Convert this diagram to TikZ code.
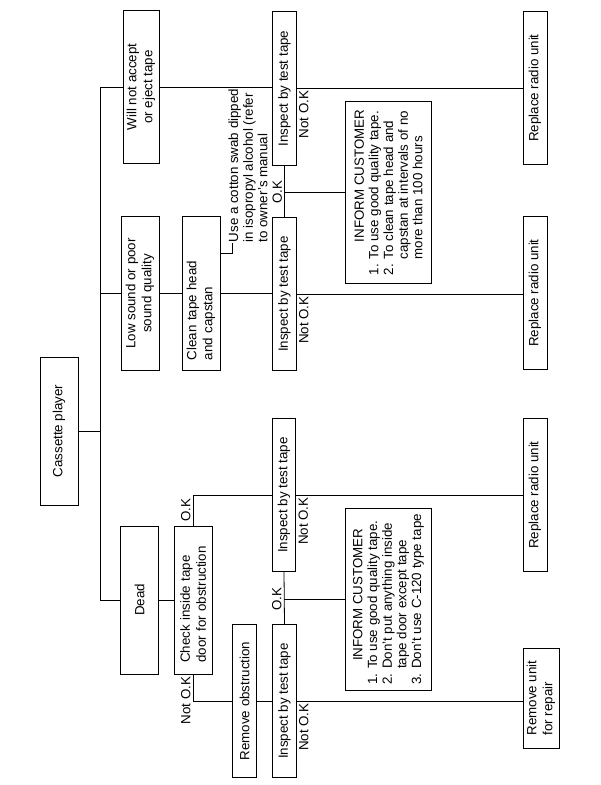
\documentclass[tikz,border=0pt]{standalone}
\usepackage{fontspec}
\setmainfont{Liberation Sans}

\begin{document}
\begin{tikzpicture}[
% first : the styles of the chart
    x=0.75pt, y=-0.75pt,
    box/.style={
        rectangle,
        draw,
        rotate=90,
        align=center,
        inner sep=1pt,
        font=\fontsize{10}{12}\selectfont
    },
    bigbox/.style={box, minimum width=115pt, minimum height=28.5pt},
    slimbox/.style={box, minimum width=115pt, minimum height=17.5pt},
    inform/.style={
        box,
        align=left,
        minimum width=136pt,
        minimum height=65pt,
        font=\fontsize{10}{11}\selectfont
    },
    lbl/.style={rotate=90, inner sep=1.5pt, font=\fontsize{10}{12}\selectfont},
    line width=0.6pt
]
\useasboundingbox (0,0) rectangle (600,785);

% first column + symptoms
\node[bigbox, minimum width=111pt] (cassette) at (59,431) {Cassette player};
\node[bigbox, minimum height=27pt] (accept) at (141,87) {Will not accept\\or eject tape};
\node[bigbox] (sound) at (140,293.5) {Low sound or poor\\sound quality};
\node[bigbox, minimum width=111pt] (dead) at (139.5,600) {Dead};

% actions
\node[bigbox, align=left, text width=100pt] (clean) at (201,293.5) {Clean tape head\\and capstan};
\node[bigbox, minimum width=111pt, align=left, text width=94pt] (check) at (193,600) {Check inside tape\\door for obstruction};
\node[slimbox] (remob) at (244.5,701) {Remove obstruction};

% inspections
\node[slimbox] (insp1) at (284.5,88.5) {Inspect by test tape};
\node[slimbox] (insp2) at (284.5,294) {Inspect by test tape};
\node[slimbox] (insp3) at (284,495) {Inspect by test tape};
\node[slimbox] (insp4) at (284.5,701) {Inspect by test tape};

% customer advice
\node[inform] (inform1) at (388.5,192.5) {%
\hspace*{25pt}INFORM CUSTOMER\\
1. To use good quality tape.\\
2. To clean tape head and\\
\phantom{2. }capstan at intervals of no\\
\phantom{2. }more than 100 hours};
\node[inform] (inform2) at (388.5,599.5) {%
\hspace*{18pt}INFORM CUSTOMER\\
1. To use good quality tape.\\
2. Don't put anything inside\\
\phantom{2. }tape door except tape\\
3. Don't use C-120 type tape};

% results
\node[slimbox, minimum height=18pt] (rep1) at (535,88) {Replace radio unit};
\node[slimbox, minimum height=18pt] (rep2) at (535,293) {Replace radio unit};
\node[slimbox, minimum height=18pt] (rep3) at (535,495) {Replace radio unit};
\node[box, minimum width=75pt, minimum height=27pt, align=left] (remunit) at (541,698) {Remove unit\\for repair};

% note
\node[lbl, anchor=west, align=left, inner sep=1pt, font=\fontsize{10}{11}\selectfont] (swab) at (248,244) {Use a cotton swab dipped\\in isopropyl alcohol (refer\\to owner's manual};
\coordinate (swabtip) at (232,243);

% links
\coordinate (spine) at (100,0);
\draw (accept.north) -- (accept.north -| spine) -- (dead.north -| spine) -- (dead.north);
\draw (sound.north) -- (sound.north -| spine);
\draw (cassette.south) -- (cassette.south -| spine);

% will not accept
\draw (accept.south) -- (accept.south -| insp1.north);
\draw (insp1.south) node[lbl, anchor=north east] (nok1) {Not O.K} -- (insp1.south -| rep1.north);
\draw (insp1.west) -- (insp2.east);
\draw (inform1.north) -- (inform1.north -| insp1.west) node[lbl, anchor=south] (ok1) {O.K};

% low sound
\draw (sound.south) -- (clean.north);
\draw (clean.south) -- (clean.south -| insp2.north);
\draw (swabtip) |- (clean.south |- 0,253);
\draw (insp2.south) node[lbl, anchor=north east] (nok2) {Not O.K} -- (insp2.south -| rep2.north);

% dead
\draw (dead.south) -- (check.north);
\draw (check.east) -- node[lbl, anchor=south] (ok2) {O.K} (check.east |- insp3.north) -- (insp3.north);
\draw (check.west) node[lbl, anchor=south east] (nok3) {Not O.K} |- (remob.north);
\draw (remob.south) -- (remob.south -| insp4.north);
\draw (insp3.west) -- (insp4.east);
\draw (inform2.north) -- (inform2.north -| insp3.west) node[lbl, anchor=south] (ok3) {O.K};
\draw (insp3.south) node[lbl, anchor=north east] (nok4) {Not O.K} -- (insp3.south -| rep3.north);
\draw (insp4.south) node[lbl, anchor=north east] (nok5) {Not O.K} -- (insp4.south -| remunit.north);

\end{tikzpicture}
\end{document}
